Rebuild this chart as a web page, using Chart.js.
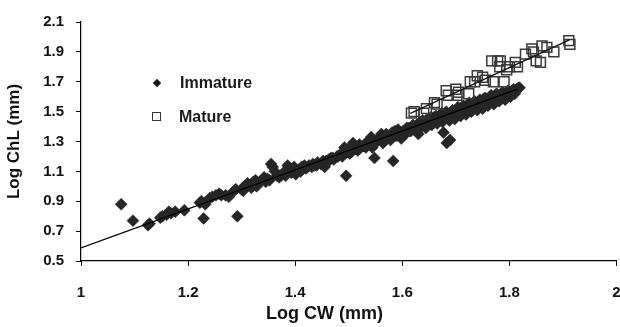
<!DOCTYPE html>
<html>
<head>
<meta charset="utf-8">
<script src="https://cdn.jsdelivr.net/npm/chart.js@4.4.1/dist/chart.umd.min.js"></script>
<style>
  html, body { margin: 0; padding: 0; background: #fff; overflow: hidden; }
  #wrap { position: relative; width: 620px; height: 327px; overflow: hidden; }
  canvas { display: block; }
  .leg { position: absolute; font: bold 16px "Liberation Sans", Arial, sans-serif; color: #1a1a1a; white-space: nowrap; }
  .ttl { position: absolute; font: bold 18px "Liberation Sans", Arial, sans-serif; line-height: 18px; color: #111; white-space: nowrap; }
  .dia { position: absolute; width: 6px; height: 6px; background: #1a1a1a; transform: rotate(45deg); }
  .sq { position: absolute; width: 7px; height: 7px; border: 1.5px solid #333; background: #fff; }
</style>
</head>
<body>
<div id="wrap">
  <canvas id="c" width="625" height="327"></canvas>
  <div class="dia" style="left:154px; top:80px;"></div>
  <div class="leg" style="left:180px; top:74px;">Immature</div>
  <div class="sq" style="left:152px; top:112px;"></div>
  <div class="leg" style="left:179px; top:108px;">Mature</div>
  <div class="ttl" id="xt" style="left:266px; top:304px;"></div>
</div>
<script>
// ---- data ----
const seriesNames = ["Immature", "Mature"];
const xTicks = [1, 1.2, 1.4, 1.6, 1.8, 2];
const yTicks = [0.5, 0.7, 0.9, 1.1, 1.3, 1.5, 1.7, 1.9, 2.1];

const immatureX = [1.075,1.097,1.125,1.128,1.148,1.152,1.160,1.164,1.168,1.176,1.193,1.222,1.225,1.229,1.232,1.240,1.245,1.252,1.258,1.262,1.270,1.276,1.283,1.289,1.292,1.300,1.305,1.311,1.316,1.322,1.326,1.332,1.338,1.342,1.348,1.355,1.358,1.362,1.366,1.373,1.378,1.386,1.390,1.395,1.398,1.401,1.406,1.412,1.417,1.420,1.426,1.431,1.436,1.442,1.448,1.455,1.458,1.463,1.467,1.472,1.478,1.483,1.488,1.492,1.495,1.497,1.502,1.508,1.512,1.517,1.522,1.527,1.532,1.537,1.542,1.544,1.548,1.550,1.555,1.561,1.564,1.568,1.573,1.578,1.583,1.586,1.590,1.594,1.598,1.602,1.606,1.611,1.614,1.618,1.622,1.627,1.630,1.633,1.636,1.640,1.644,1.647,1.651,1.655,1.658,1.661,1.665,1.668,1.672,1.675,1.677,1.680,1.683,1.684,1.688,1.689,1.692,1.695,1.698,1.702,1.705,1.709,1.712,1.716,1.719,1.722,1.726,1.729,1.733,1.736,1.740,1.743,1.747,1.750,1.753,1.757,1.760,1.764,1.767,1.771,1.774,1.778,1.781,1.785,1.788,1.792,1.795,1.799,1.802,1.806,1.810,1.814,1.817,
  1.303,1.318,1.328,1.345,1.352,1.370,1.382,1.393,1.403,1.410,1.423,1.433,1.440,1.452,1.460,1.470,1.480,1.490,1.500,1.505,1.515,1.520,1.530,1.535,1.540,1.553,1.558,1.566,1.570,1.576,1.581,1.588,1.592,1.596,1.604,1.608,1.616,1.620,1.625,1.632,1.638,1.642,1.649,1.653,1.657,1.663,1.667,1.670,1.674,1.679,1.682,1.686,1.690,1.694,1.697,1.700,1.704,1.707,1.711,1.714,1.718,1.721,1.725,1.728,1.731,1.735,1.738,1.742,1.745,1.749,1.752,1.756,1.759,1.763,1.766,1.769,1.773,1.776,1.780,1.783,1.787,1.790,1.794,1.797,1.801,1.805,1.808,1.812,1.819];
const immatureY = [0.88,0.77,0.74,0.75,0.79,0.80,0.81,0.83,0.82,0.83,0.84,0.89,0.90,0.785,0.88,0.92,0.93,0.94,0.95,0.94,0.94,0.93,0.96,0.98,0.80,0.98,1.00,1.02,1.01,1.03,1.04,1.02,1.04,1.06,1.05,1.15,1.13,1.10,1.07,1.07,1.09,1.14,1.12,1.10,1.13,1.08,1.11,1.13,1.14,1.12,1.14,1.13,1.14,1.16,1.15,1.13,1.17,1.18,1.19,1.18,1.20,1.21,1.20,1.26,1.07,1.23,1.22,1.29,1.25,1.24,1.26,1.27,1.26,1.29,1.33,1.26,1.19,1.30,1.31,1.35,1.29,1.32,1.33,1.31,1.17,1.37,1.34,1.36,1.32,1.37,1.35,1.39,1.37,1.40,1.38,1.41,1.35,1.43,1.40,1.42,1.39,1.45,1.43,1.41,1.46,1.44,1.42,1.47,1.45,1.43,1.36,1.48,1.29,1.46,1.44,1.31,1.50,1.47,1.45,1.52,1.49,1.47,1.53,1.51,1.48,1.54,1.52,1.50,1.56,1.53,1.51,1.57,1.55,1.52,1.59,1.56,1.54,1.60,1.58,1.55,1.61,1.59,1.57,1.62,1.60,1.58,1.63,1.61,1.60,1.64,1.62,1.65,1.66,
  0.97,0.99,1.00,1.03,1.04,1.06,1.07,1.09,1.10,1.10,1.13,1.15,1.14,1.17,1.16,1.19,1.20,1.22,1.25,1.23,1.25,1.28,1.27,1.30,1.28,1.30,1.33,1.31,1.35,1.33,1.36,1.34,1.38,1.36,1.36,1.39,1.37,1.41,1.39,1.41,1.44,1.41,1.43,1.46,1.43,1.47,1.44,1.46,1.49,1.47,1.50,1.47,1.49,1.51,1.48,1.50,1.53,1.49,1.51,1.54,1.52,1.53,1.56,1.53,1.55,1.57,1.54,1.56,1.58,1.55,1.57,1.59,1.57,1.58,1.61,1.59,1.60,1.62,1.60,1.61,1.63,1.61,1.62,1.64,1.63,1.64,1.65,1.64,1.66];

const matureX = [1.617,1.622,1.640,1.645,1.660,1.665,1.682,1.686,1.700,1.702,1.705,1.724,1.727,1.735,1.740,1.750,1.755,1.767,1.770,1.778,1.783,1.782,1.790,1.795,1.800,1.811,1.815,1.830,1.842,1.845,1.850,1.858,1.861,1.870,1.883,1.911,1.913];
const matureY = [1.49,1.50,1.49,1.52,1.56,1.55,1.64,1.61,1.65,1.61,1.63,1.62,1.70,1.70,1.74,1.73,1.71,1.84,1.70,1.84,1.84,1.80,1.70,1.78,1.80,1.83,1.80,1.885,1.92,1.90,1.84,1.83,1.94,1.93,1.90,1.975,1.95];

const immatureFitX = [1.0, 1.815];
const immatureFitY = [0.588, 1.65];
const matureFitX = [1.615, 1.912];
const matureFitY = [1.488, 1.98];

const xTitle = "Log CW (mm)";
const yTitle = "Log ChL (mm)";

// ---- build ----
document.getElementById('xt').textContent = xTitle;
const pts = (xs, ys) => xs.map((x, i) => ({ x: x, y: ys[i] }));
const FONT = '"Liberation Sans", Arial, sans-serif';

new Chart(document.getElementById('c'), {
  type: 'scatter',
  data: {
    datasets: [
      { label: 'fitM', data: pts(matureFitX, matureFitY), showLine: true, borderColor: '#111', borderWidth: 1.3, pointRadius: 0, order: 0 },
      { label: 'fitI', data: pts(immatureFitX, immatureFitY), showLine: true, borderColor: '#000', borderWidth: 1.3, pointRadius: 0, order: 0 },
      { label: seriesNames[1], data: pts(matureX, matureY), pointStyle: 'rect', pointRadius: 7, backgroundColor: 'rgba(0,0,0,0)', borderColor: '#3a3a3a', borderWidth: 1.5, order: 1 },
      { label: seriesNames[0], data: pts(immatureX, immatureY), pointStyle: 'rectRot', pointRadius: 6, backgroundColor: '#262626', borderColor: '#262626', borderWidth: 0.5, order: 2 }
    ]
  },
  options: {
    responsive: false,
    animation: false,
    layout: { padding: { top: 22, right: 0, left: 0, bottom: 0 } },
    plugins: { legend: { display: false }, tooltip: { enabled: false } },
    scales: {
      x: {
        type: 'linear', min: 1, max: 2,
        afterBuildTicks: (s) => { s.ticks = xTicks.map(v => ({ value: v })); },
        afterFit: (s) => { s.height = 66; s.paddingRight = 1; s.paddingLeft = 0; },
        grid: { display: true, drawOnChartArea: false, drawTicks: true, tickLength: 5, color: '#000', lineWidth: 1 },
        border: { display: true, color: '#000', width: 1.2 },
        ticks: { color: '#111', font: { family: FONT, size: 15, weight: 'bold' }, padding: 18, callback: (v) => String(v) },
        title: { display: false }
      },
      y: {
        type: 'linear', min: 0.5, max: 2.1,
        afterBuildTicks: (s) => { s.ticks = yTicks.map(v => ({ value: v })); },
        afterFit: (s) => { s.width = 81; },
        grid: { display: true, drawOnChartArea: false, drawTicks: true, tickLength: 5, color: '#000', lineWidth: 1 },
        border: { display: true, color: '#000', width: 1.2 },
        ticks: { color: '#111', font: { family: FONT, size: 15, weight: 'bold' }, padding: 12, callback: (v) => v.toFixed(1) },
        title: { display: true, text: yTitle, color: '#111', font: { family: FONT, size: 17, weight: 'bold' }, padding: { bottom: 4 } }
      }
    }
  }
});
</script>
</body>
</html>
